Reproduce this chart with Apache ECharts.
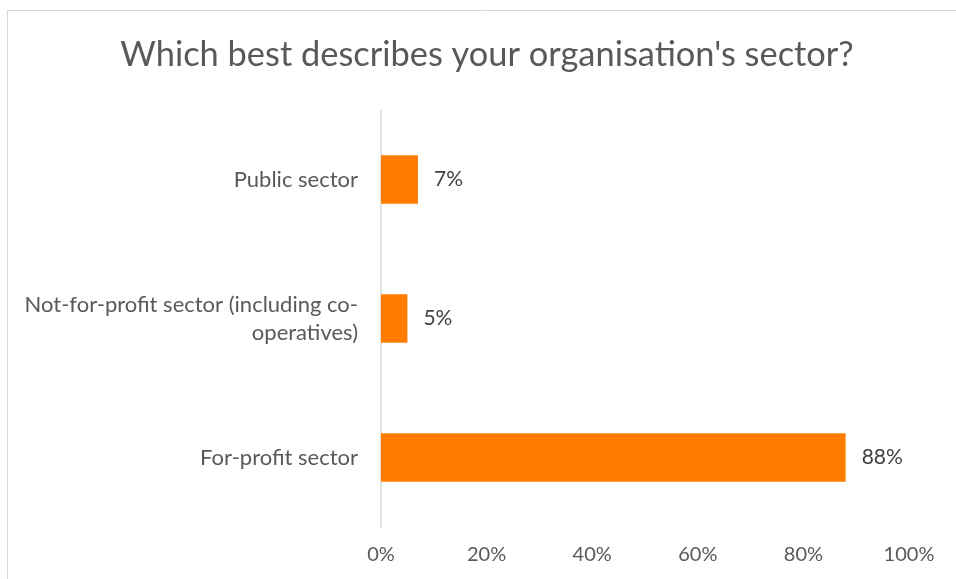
<!DOCTYPE html>
<html>
<head>
<meta charset="utf-8">
<style>
  html, body { margin: 0; padding: 0; background: #ffffff; }
  #chart { width: 956px; height: 579px; }
</style>
<script src="https://cdn.jsdelivr.net/npm/echarts@6/dist/echarts.min.js"></script>
</head>
<body>
<div id="chart"></div>
<script>
// Survey answers, bottom-to-top as drawn on the category axis
const categories = [
  'For-profit sector',
  'Not-for-profit sector (including co-\noperatives)',
  'Public sector'
];
const shares = [88, 5, 7];
const xTicks = [0, 20, 40, 60, 80, 100];
const titleText = "Which best describes your organisation's sector?";

const FONT = 'Lato, "Open Sans", sans-serif';
const chart = echarts.init(document.getElementById('chart'), null, { renderer: 'canvas' });

chart.setOption({
  backgroundColor: '#ffffff',
  animation: false,
  title: {
    text: titleText,
    left: 482,
    textAlign: 'center',
    top: 33,
    textStyle: { fontFamily: FONT, fontSize: 34.4, fontWeight: 'normal', color: '#595959' }
  },
  graphic: [{
    type: 'rect',
    shape: { x: 7.5, y: 10.5, width: 2000, height: 2000 },
    style: { fill: 'none', stroke: '#d9d9d9', lineWidth: 1 },
    silent: true
  }],
  grid: { left: 381, right: 47, top: 110, bottom: 52, containLabel: false },
  xAxis: {
    type: 'value',
    min: xTicks[0],
    max: xTicks[xTicks.length - 1],
    interval: xTicks[1] - xTicks[0],
    axisLine: { show: false },
    axisTick: { show: false },
    splitLine: { show: false },
    axisLabel: {
      formatter: v => v + '%',
      fontFamily: FONT, fontSize: 20, color: '#595959', margin: 18
    }
  },
  yAxis: {
    type: 'category',
    data: categories,
    axisLine: { show: true, lineStyle: { color: '#d9d9d9', width: 1.5 } },
    axisTick: { show: false },
    axisLabel: {
      fontFamily: FONT, fontSize: 22, color: '#595959', margin: 23,
      lineHeight: 28, align: 'right'
    }
  },
  series: [{
    type: 'bar',
    data: shares,
    barWidth: '35%',
    itemStyle: { color: '#FF7C00' },
    label: {
      show: true,
      position: 'right',
      distance: 16,
      formatter: p => p.value + '%',
      fontFamily: FONT, fontSize: 21, color: '#404040'
    }
  }]
});
</script>
</body>
</html>
